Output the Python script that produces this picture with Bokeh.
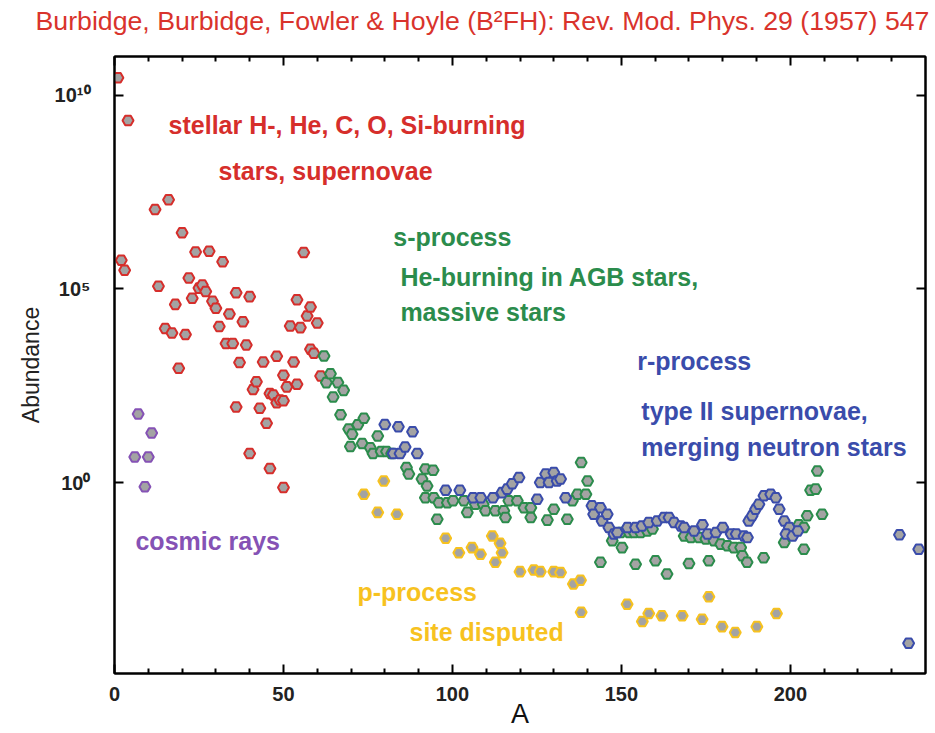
from bokeh.plotting import figure
from bokeh.models import (Range1d, FixedTicker, LinearAxis, LogAxis, Label,
                          CustomJSTickFormatter, ColumnDataSource)
from bokeh.embed import file_html
from bokeh.resources import INLINE

# ---------------- data (mass number A, log10 abundance, Si = 10^6) ----------------
stellar_A = [1, 2, 3, 4, 12, 13, 15, 16, 17, 18, 19, 20, 21, 22, 23, 24, 25, 26, 27, 28,
             29, 30, 31, 32, 33, 34, 35, 36, 36, 37, 38, 39, 40, 40, 41, 42, 43, 44, 45,
             46, 46, 47, 48, 48, 49, 50, 50, 50, 51, 52, 53, 54, 54, 55, 56, 57, 58, 58,
             59, 60, 61]
stellar_logN = [10.45, 5.74, 5.48, 9.35, 7.05, 5.07, 3.98, 7.30, 3.86, 4.60, 2.95, 6.45,
                3.82, 5.28, 4.76, 5.95, 5.02, 5.10, 4.93, 5.97, 4.68, 4.50, 4.03, 5.70,
                3.59, 4.35, 3.59, 4.90, 1.95, 3.10, 4.15, 3.55, 4.80, 0.75, 2.40, 2.60,
                1.92, 3.11, 1.53, 2.30, 0.36, 2.26, 3.26, 2.06, 2.13, 2.11, 2.77, -0.13,
                2.47, 4.04, 3.11, 4.72, 2.54, 4.00, 5.94, 4.30, 4.53, 3.44, 3.34, 4.12, 2.75]

cosmic_A = [6, 7, 9, 10, 11]
cosmic_logN = [0.66, 1.77, -0.11, 0.66, 1.28]

s_A = [62, 62.7, 63.9, 64.7, 66.1, 66.9, 67.8, 69.3, 70.3, 69.8, 72, 73.3, 73.8, 75.7,
       76.5, 77.9, 78.9, 80.5, 82, 86.4, 87.1, 92, 94.3, 91, 92.5, 92, 94.5, 96, 98.5,
       95.5, 100.2, 103.4, 104.4, 106.8, 109.1, 109.8, 112.7, 115.2, 116.7, 119.2,
       115.7, 121.2, 123.2, 123.2, 128.1, 130, 134, 135.5, 137, 139.5, 138.1, 140,
       143.8, 147.3, 150.2, 149.8, 152.3, 153.8, 155.7, 157.7, 159.2, 154.2, 160.1,
       163.5, 168.6, 170.6, 173, 175, 177.4, 179.4, 181.4, 183.3, 185.3, 185.8, 187.2,
       170, 175.9, 192.1, 198.2, 202.5, 204, 204, 205, 206, 207.5, 208, 209.4]
s_logN = [3.27, 2.58, 2.81, 2.21, 2.58, 1.75, 2.38, 1.38, 1.25, 0.93, 1.49, 1.01, 1.66,
          0.90, 0.75, 1.20, 0.80, 0.80, 0.75, 0.39, 0.22, 0.35, 0.32, 0.09, -0.09, -0.39,
          -0.39, -0.52, -0.52, -0.95, -0.47, -0.47, -0.77, -0.56, -0.56, -0.73, -0.73,
          -0.73, -0.47, -0.47, -0.90, -0.65, -0.65, -0.90, -0.97, -0.69, -0.95, -0.47,
          -0.30, -0.30, 0.52, 0.04, -2.06, -1.50, -1.68, -1.29, -1.29, -1.29, -1.29,
          -1.25, -1.20, -2.11, -2.02, -2.36, -1.38, -1.42, -1.42, -1.46, -1.50, -1.59,
          -1.63, -1.68, -1.68, -1.89, -2.06, -2.09, -2.02, -1.94, -1.55, -1.09, -1.16,
          -1.72, -0.86, -0.20, -0.17, 0.30, -0.82]

r_A = [80, 84, 88.2, 82.5, 84.5, 86, 89.6, 98, 102.2, 106.1, 108.4, 112, 114.7, 116.2,
       117.7, 119.7, 125.1, 126, 127.6, 128.6, 130, 131, 132, 133.5, 141.3, 141.8,
       143.8, 144.3, 145.8, 146.3, 147.8, 148.8, 151.8, 154.2, 156.1, 158.1, 160.6,
       162.6, 164.1, 165.6, 167.6, 168.6, 171.5, 174, 175.5, 178, 180, 182.5, 184,
       186.3, 187.3, 187.7, 188.7, 189.7, 190.7, 192.2, 194.2, 195.7, 196.7, 198.2,
       199.7, 198.7, 200.7, 202.2, 232.3, 235, 238]
r_logN = [1.50, 1.44, 1.31, 0.75, 0.75, 0.92, 0.75, -0.20, -0.20, -0.39, -0.39, -0.39,
          -0.26, -0.17, -0.03, 0.13, -0.43, 0.00, 0.22, 0.00, 0.26, 0.04, 0.09, -0.39,
          -0.60, -0.82, -0.65, -0.99, -0.82, -1.16, -1.33, -1.29, -1.16, -1.16, -1.12,
          -1.03, -0.99, -0.90, -0.90, -1.03, -1.12, -1.16, -1.25, -1.09, -1.33, -1.29,
          -1.16, -1.33, -1.33, -1.38, -1.42, -0.99, -0.86, -0.69, -0.56, -0.34, -0.30,
          -0.39, -0.69, -0.99, -1.16, -1.33, -1.38, -1.25, -1.35, -4.15, -1.72]

p_A = [73.8, 77.9, 79.7, 83.6, 98, 101.9, 105.8, 108.3, 111.8, 114.1, 114.7, 112.7,
       120, 124.1, 126, 130, 132, 135.8, 137.9, 138.1, 151.7, 156.2, 158.1, 162, 168,
       173.9, 175.9, 179.8, 183.7, 190.1, 195.9]
p_logN = [-0.30, -0.77, 0.04, -0.82, -1.44, -1.81, -1.68, -1.85, -1.38, -1.57, -1.81,
          -2.06, -2.30, -2.26, -2.30, -2.30, -2.32, -2.62, -2.52, -3.35, -3.14, -3.59,
          -3.38, -3.44, -3.44, -3.53, -2.95, -3.72, -3.87, -3.72, -3.38]

x_major_ticks = [0, 50, 100, 150, 200]
x_minor_ticks = [10, 20, 30, 40, 60, 70, 80, 90, 110, 120, 130, 140, 160, 170, 180,
                 190, 210, 220, 230]
y_tick_values = [1e-5, 1e0, 1e5, 1e10]
y_tick_labels = ["10\u207b\u2076", "10\u2070", "10\u2075", "10\u00b9\u2070"]
TITLE = "Burbidge, Burbidge, Fowler & Hoyle (B\u00b2FH): Rev. Mod. Phys. 29 (1957) 547"

RED = "#d62e2b"
GREEN = "#2b8c4c"
BLUE = "#3a4cab"
YELLOW = "#f7c21f"
PURPLE = "#8552b5"
FILL = "#a3a3a3"
TITLE_RED = "#d9332c"
SANS = "Liberation Sans"

# ---------------- figure ----------------
p = figure(width=935, height=733, y_axis_type="log",
           x_range=Range1d(0, 240), y_range=Range1d(10 ** -4.93, 10 ** 11),
           output_backend="svg", toolbar_location=None,
           min_border_left=114, min_border_right=10, min_border_top=56,
           min_border_bottom=60)
p.grid.visible = False
p.outline_line_color = "black"
p.outline_line_width = 2
p.background_fill_color = "white"
p.border_fill_color = "white"

xt = FixedTicker(ticks=x_major_ticks, minor_ticks=x_minor_ticks)
yt = FixedTicker(ticks=y_tick_values, minor_ticks=[])
yfmt = CustomJSTickFormatter(args=dict(vals=y_tick_values, labels=y_tick_labels), code="""
    let best = 0, bd = 1e9;
    for (let i = 0; i < vals.length; i++) {
        const d = Math.abs(Math.log10(vals[i]) - Math.log10(tick));
        if (d < bd) { bd = d; best = i; }
    }
    return labels[best];
""")
blank = CustomJSTickFormatter(code="return '';")

def style_axis(ax, show_labels):
    ax.axis_line_color = "black"
    ax.axis_line_width = 2
    ax.major_tick_in = 9
    ax.major_tick_out = 0
    ax.minor_tick_in = 5
    ax.minor_tick_out = 0
    ax.major_tick_line_width = 2
    ax.minor_tick_line_width = 2
    ax.major_tick_line_color = "black"
    ax.minor_tick_line_color = "black"
    if show_labels:
        ax.major_label_text_font = SANS
        ax.major_label_text_font_style = "bold"
        ax.major_label_text_font_size = "20px"
        ax.major_label_text_color = "#222222"
    else:
        ax.formatter = blank
        ax.major_label_text_font_size = "10px"
        ax.major_label_standoff = 0

xa = p.xaxis[0]
xa.ticker = xt
style_axis(xa, True)
xa.major_label_standoff = 13
xa.axis_label = "A"
xa.axis_label_text_font = SANS
xa.axis_label_text_font_style = "normal"
xa.axis_label_text_font_size = "27px"
xa.axis_label_text_color = "#111111"
xa.axis_label_standoff = -5

ya = p.yaxis[0]
ya.ticker = yt
ya.formatter = yfmt
style_axis(ya, True)
ya.major_label_standoff = 24
ya.axis_label = "Abundance"
ya.axis_label_text_font = SANS
ya.axis_label_text_font_style = "normal"
ya.axis_label_text_font_size = "23px"
ya.axis_label_text_color = "#222222"
ya.axis_label_standoff = 8

top_ax = LinearAxis(ticker=xt)
style_axis(top_ax, False)
p.add_layout(top_ax, "above")
right_ax = LogAxis(ticker=yt)
style_axis(right_ax, False)
p.add_layout(right_ax, "right")

# header line, carried by a line-less axis with one tick at the header's centre
title_ax = LinearAxis(ticker=FixedTicker(ticks=[108.9], minor_ticks=[]),
                      formatter=CustomJSTickFormatter(args=dict(t=TITLE), code="return t;"),
                      axis_line_color=None, major_tick_line_color=None,
                      minor_tick_line_color=None, major_tick_in=0, major_tick_out=0,
                      minor_tick_in=0, minor_tick_out=0, major_label_standoff=21,
                      major_label_text_font=SANS, major_label_text_font_size="26.7px",
                      major_label_text_font_style="normal",
                      major_label_text_color=TITLE_RED)
p.add_layout(title_ax, "above")

def series(A, logN, color):
    src = ColumnDataSource(dict(A=A, N=[10 ** v for v in logN]))
    p.scatter("A", "N", source=src, marker="hex", size=11, fill_color=FILL,
              line_color=color, line_width=2)

series(stellar_A, stellar_logN, RED)
series(cosmic_A, cosmic_logN, PURPLE)
series(p_A, p_logN, YELLOW)
series(s_A, s_logN, GREEN)
series(r_A, r_logN, BLUE)

def note(text, a, logn, color, size="25px"):
    p.add_layout(Label(x=a, y=10 ** logn, text=text, text_color=color,
                       text_font=SANS, text_font_style="bold",
                       text_font_size=size, text_baseline="middle", text_align="left"))

note("stellar H-, He, C, O, Si-burning", 16.0, 9.23, RED)
note("stars, supernovae", 30.8, 8.04, RED)
note("s-process", 82.5, 6.34, GREEN)
note("He-burning in AGB stars,", 84.6, 5.31, GREEN)
note("massive stars", 84.6, 4.40, GREEN)
note("r-process", 154.7, 3.14, BLUE)
note("type II supernovae,", 155.9, 1.85, BLUE)
note("merging neutron stars", 155.9, 0.92, BLUE)
note("cosmic rays", 6.2, -1.5, PURPLE)
note("p-process", 71.9, -2.82, YELLOW)
note("site disputed", 87.3, -3.86, YELLOW)

open("out.html", "w").write(file_html(p, INLINE))
